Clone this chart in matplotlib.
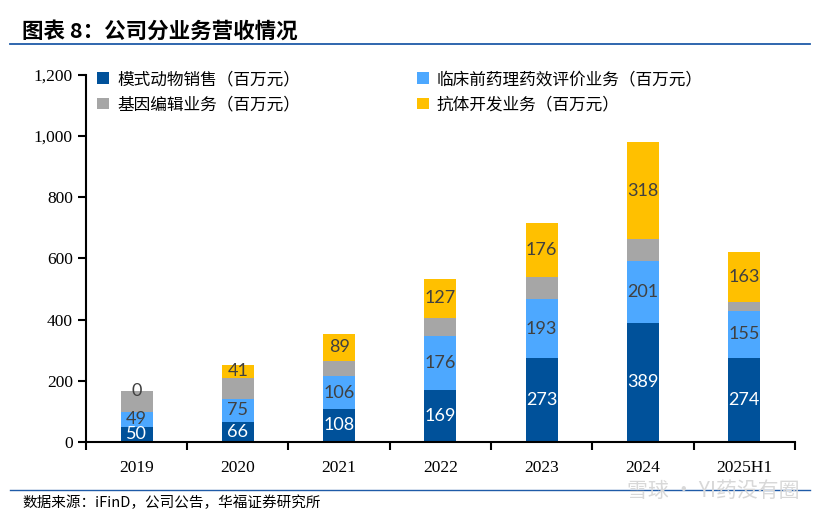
import numpy as np
import matplotlib.pyplot as plt
from matplotlib.lines import Line2D

plt.rcParams['font.family'] = ['Noto Sans CJK SC', 'DejaVu Sans']

# data (百万元)
years = ['2019', '2020', '2021', '2022', '2023', '2024', '2025H1']
animal = [50, 66, 108, 169, 273, 389, 274]        # 模式动物销售
pharma = [49, 75, 106, 176, 193, 201, 155]        # 临床前药理药效评价业务
gene = [69, 69, 51, 61, 73, 72, 27]               # 基因编辑业务 (no labels)
antibody = [0, 41, 89, 127, 176, 318, 163]        # 抗体开发业务

c_animal = '#00519A'
c_pharma = '#4DA8FF'
c_gene = '#A6A6A6'
c_anti = '#FFC000'

fig = plt.figure(figsize=(8.29, 5.2), dpi=100)
ax = fig.add_axes([0.1037, 0.15, 0.855, 0.7067])

x = np.arange(len(years))
w = 0.315
b1 = np.array(animal)
b2 = b1 + np.array(pharma)
b3 = b2 + np.array(gene)

ax.bar(x, animal, w, color=c_animal, label='模式动物销售（百万元）')
ax.bar(x, pharma, w, bottom=b1, color=c_pharma, label='临床前药理药效评价业务（百万元）')
ax.bar(x, gene, w, bottom=b2, color=c_gene, label='基因编辑业务（百万元）')
ax.bar(x, antibody, w, bottom=b3, color=c_anti, label='抗体开发业务（百万元）')

lab_font = dict(family='Lato', fontsize=13, ha='center', va='center')
for i in range(len(years)):
    ax.text(x[i], animal[i] / 2, str(animal[i]), color='white', **lab_font)
    ax.text(x[i], b1[i] + pharma[i] / 2, str(pharma[i]), color='#404040', **lab_font)
    ax.text(x[i], b3[i] + antibody[i] / 2, str(antibody[i]), color='#404040', **lab_font)

ax.set_xlim(-0.5, len(years) - 0.5)
ax.set_ylim(0, 1200)
ax.set_yticks(range(0, 1201, 200))
ax.set_yticklabels([f'{v:,}' for v in range(0, 1201, 200)], family='Liberation Serif', fontsize=12.5)
ax.set_xticks(x)
ax.set_xticklabels(years, family='Liberation Serif', fontsize=12.5)
ax.tick_params(axis='x', length=0, pad=13)
ax.tick_params(axis='y', length=6, width=1.5, direction='out')
ax.set_xticks(np.arange(-0.5, len(years), 1), minor=True)
ax.tick_params(axis='x', which='minor', length=6, width=1.5, direction='out')
for s in ['top', 'right']:
    ax.spines[s].set_visible(False)
for s in ['left', 'bottom']:
    ax.spines[s].set_linewidth(1.5)

h, l = ax.get_legend_handles_labels()
order = [0, 2, 1, 3]
ax.legend([h[k] for k in order], [l[k] for k in order], ncol=2, loc='upper left',
          bbox_to_anchor=(-0.005, 1.05), frameon=False, fontsize=12,
          handlelength=0.7, handleheight=0.7, handletextpad=0.5,
          columnspacing=7.0, labelspacing=0.5)

# header and footer
fig.text(0.027, 0.94, '图表 8：公司分业务营收情况', fontsize=15.5, fontweight='bold', va='center')
fig.add_artist(Line2D([0.012, 0.977], [0.915, 0.915], color='#1F5BA8', lw=1.3))
fig.add_artist(Line2D([0.012, 0.977], [0.058, 0.058], color='#1F5BA8', lw=1.0))
fig.text(0.027, 0.033, '数据来源：iFinD，公司公告，华福证券研究所', fontsize=10.5, va='center')
fig.text(0.965, 0.055, '雪球 · YI药没有圈', fontsize=15, color='#D8D8D8', ha='right', va='center')

fig.savefig('out.png', dpi=100)
